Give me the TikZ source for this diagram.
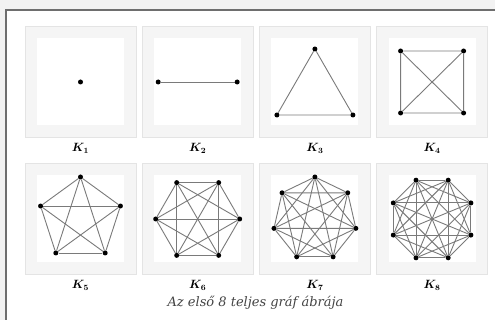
\documentclass[tikz,border=0pt]{standalone}
\usepackage{fontspec}
\usepackage{bm}
\newfontfamily\capfont{DejaVu Serif}
\definecolor{bggray}{HTML}{F2F2F2}
\definecolor{boxline}{HTML}{6E6E6E}
\definecolor{panelgray}{HTML}{F5F5F5}
\definecolor{panelline}{HTML}{E4E4E4}
\definecolor{edgegray}{HTML}{7A7A7A}
\definecolor{captext}{HTML}{444444}
\pgfdeclarelayer{back}
\pgfdeclarelayer{edges}
\pgfsetlayers{back,edges,main}
\begin{document}
\begin{tikzpicture}[x=1pt,y=-1pt,
  panel/.style={fill=panelgray, draw=panelline, line width=0.8pt},
  innerbox/.style={fill=white, draw=none},
  vtx/.style={circle, fill=black, inner sep=0pt, minimum size=5pt},
  edge/.style={draw=edgegray, line width=0.9pt},
  lbl/.style={font=\fontsize{12}{14}\selectfont},
  captionstyle/.style={font=\capfont\itshape\fontsize{13}{15}\selectfont, text=captext}]
\useasboundingbox (0,0) rectangle (495,320);
\begin{pgfonlayer}{back}
\fill[bggray] (0,0) rectangle (495,320);
\draw[boxline, line width=1.5pt, fill=white] (6,10) rectangle (505,330);
\foreach \i in {0,1,2,3}{
  \pgfmathsetmacro{\xo}{25+117.2*\i}
  \foreach \yo in {26,163}{
    \draw[panel] (\xo,\yo) rectangle ++(111,111);
    \fill[innerbox] (\xo+12,\yo+12) rectangle ++(87,87);
  }
}
\end{pgfonlayer}
% K1
\node[vtx] (a1) at (80.5,82) {};
% K2
\node[vtx] (b1) at (158.2,82) {};
\node[vtx] (b2) at (237.2,82) {};
% K3
\node[vtx] (c1) at (314.9,49) {};
\node[vtx] (c2) at (276.9,115) {};
\node[vtx] (c3) at (352.9,115) {};
% K4
\node[vtx] (d1) at (400.6,51) {};
\node[vtx] (d2) at (463.6,51) {};
\node[vtx] (d3) at (463.6,113) {};
\node[vtx] (d4) at (400.6,113) {};
\begin{pgfonlayer}{edges}
\draw[edge] (b1) -- (b2);
\draw[edge] (c1) -- (c2) (c2) -- (c3) (c3) -- (c1);
\draw[edge] (d1) -- (d2) (d2) -- (d3) (d3) -- (d4) (d4) -- (d1) (d1) -- (d3) (d2) -- (d4);
\end{pgfonlayer}
% K5..K8
\foreach \n/\cx/\st in {5/80.5/-90, 6/197.7/0, 7/314.9/-90, 8/432.1/22.5}{
  \foreach \k in {1,...,\n}{
    \node[vtx] (v\n-\k) at ([shift={(\st+360*\k/\n:42)}]\cx,219) {};
  }
  \begin{pgfonlayer}{edges}
  \foreach \a in {1,...,\n}{
    \foreach \b in {1,...,\n}{
      \ifnum\a<\b \draw[edge] (v\n-\a) -- (v\n-\b); \fi
    }
  }
  \end{pgfonlayer}
}
% labels
\node[lbl] (l1) at (80.5,148) {$\bm{K_1}$};
\node[lbl] (l2) at (197.7,148) {$\bm{K_2}$};
\node[lbl] (l3) at (314.9,148) {$\bm{K_3}$};
\node[lbl] (l4) at (432.1,148) {$\bm{K_4}$};
\node[lbl] (l5) at (80.5,285) {$\bm{K_5}$};
\node[lbl] (l6) at (197.7,285) {$\bm{K_6}$};
\node[lbl] (l7) at (314.9,285) {$\bm{K_7}$};
\node[lbl] (l8) at (432.1,285) {$\bm{K_8}$};
\node[captionstyle] (caption) at (255.5,303) {Az első 8 teljes gráf ábrája};
\end{tikzpicture}
\end{document}
